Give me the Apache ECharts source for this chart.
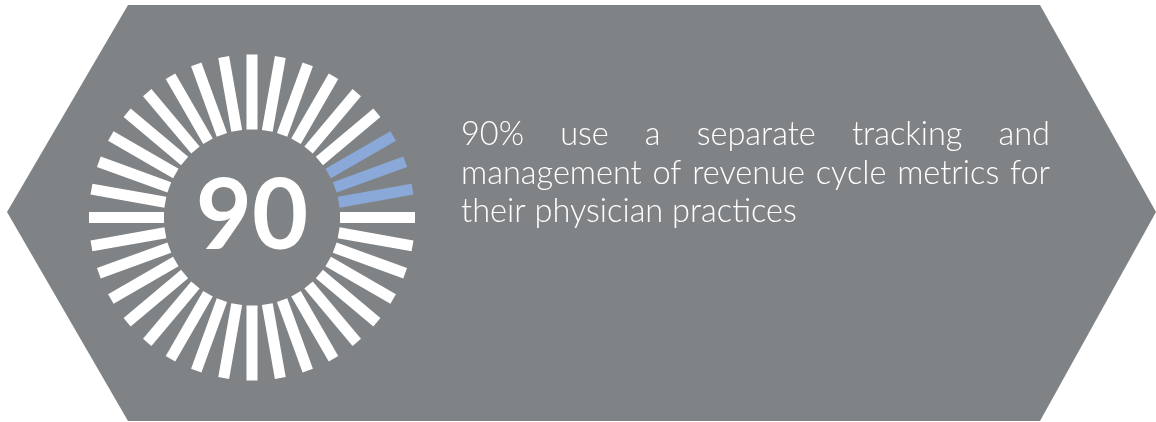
<!DOCTYPE html>
<html>
<head>
<meta charset="utf-8">
<script src="https://cdn.jsdelivr.net/npm/echarts@6/dist/echarts.min.js"></script>
<style>
html, body { margin: 0; padding: 0; background: #fff; }
#chart { width: 1156px; height: 422px; }
</style>
</head>
<body>
<div id="chart"></div>
<script>
// share of respondents, drawn as a ring of 36 spokes
var percent = 90;
var tickCount = 36;
var captionLines = [
  "90% use a separate tracking and",
  "management of revenue cycle metrics for",
  "their physician practices"
];
var justifyLines = [true, true, false];

var grey = '#808386';
var blue = '#8aa9d9';
var textSize = 32.5;
var textFamily = 'Lato';
var textWeight = 300;

// lay out the caption word by word so the first two lines are justified
function captionGraphics() {
  var ctx = document.createElement('canvas').getContext('2d');
  ctx.font = textWeight + ' ' + textSize + 'px ' + textFamily;
  var left = 461, right = 1050, firstY = 135, lineGap = 38.5;
  var out = [];
  captionLines.forEach(function (line, i) {
    var words = line.split(' ');
    var gap = ctx.measureText(' ').width;
    if (justifyLines[i]) {
      var total = 0;
      words.forEach(function (w) { total += ctx.measureText(w).width; });
      gap = (right - left - total) / (words.length - 1);
    }
    var x = left;
    words.forEach(function (w) {
      out.push({
        type: 'text', x: x, y: firstY + i * lineGap, silent: true,
        style: {
          text: w, fill: '#fff', fontSize: textSize, fontFamily: textFamily,
          fontWeight: textWeight, verticalAlign: 'middle', align: 'left'
        }
      });
      x += ctx.measureText(w).width + gap;
    });
  });
  return out;
}

var myChart = echarts.init(document.getElementById('chart'));
myChart.setOption({
  animation: false,
  graphic: [
    {
      type: 'polygon', z: -10, silent: true,
      shape: { points: [[128, 5], [1040, 5], [1156, 212], [1040, 421], [128, 421], [7, 212]] },
      style: { fill: grey }
    }
  ].concat(captionGraphics()),
  series: [
    {
      type: 'gauge',
      center: [252, 217.5],
      radius: 163,
      startAngle: 0,
      endAngle: -360,
      min: 0,
      max: 100,
      splitNumber: tickCount,
      axisLine: {
        show: false,
        lineStyle: { width: 0, color: [[percent / 100, '#fff'], [0.99, blue], [1, '#fff']] }
      },
      splitLine: {
        show: true, distance: 0, length: 75,
        lineStyle: { width: 11, color: 'auto', cap: 'butt' }
      },
      axisTick: { show: false },
      axisLabel: { show: false },
      pointer: { show: false },
      anchor: { show: false },
      progress: { show: false },
      title: { show: false },
      detail: {
        show: true,
        offsetCenter: [0, 0],
        formatter: '{value}',
        fontSize: 97,
        fontFamily: 'Lato',
        fontWeight: 'bold',
        color: '#fff'
      },
      data: [{ value: percent }]
    }
  ]
});
</script>
</body>
</html>
